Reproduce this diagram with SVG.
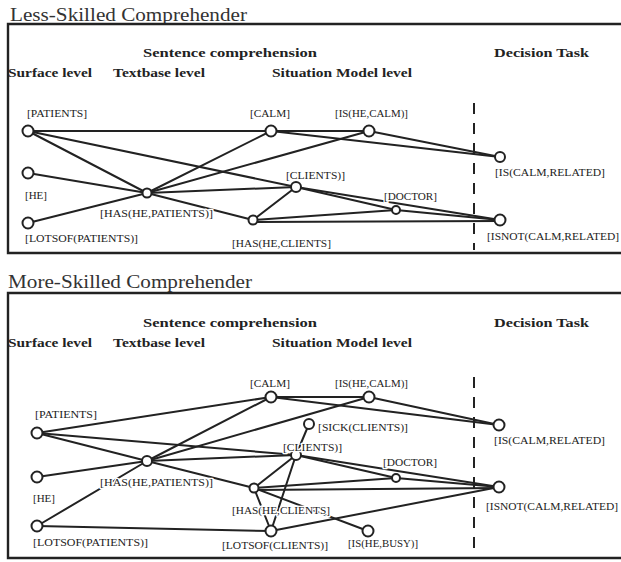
<svg xmlns="http://www.w3.org/2000/svg" width="621" height="562" viewBox="0 0 621 562">
<style>
.bg{fill:#fff}
.frame{stroke:#222;stroke-width:2.4;fill:none}
.dash{stroke:#222;stroke-width:2;stroke-dasharray:11 9;fill:none}
.title{font-family:"Liberation Serif",serif;font-size:19px;fill:#333}
.head{font-family:"Liberation Serif",serif;font-size:13px;font-weight:bold;fill:#222}
.lbl{font-family:"Liberation Serif",serif;font-size:10px;fill:#222;stroke:#fff;stroke-width:2.5;paint-order:stroke;stroke-linejoin:round}
.edge line{stroke:#222;stroke-width:2;stroke-linecap:round}
.node circle{fill:#fff;stroke:#222;stroke-width:2}
</style>
<rect class="bg" x="0" y="0" width="621" height="562"/>

<!-- Top panel frame -->
<g id="top-frame">
<text class="title" x="10" y="21" textLength="237" lengthAdjust="spacingAndGlyphs">Less-Skilled Comprehender</text>
<path class="frame" d="M621,24 H8 V253 H621"/>
<text class="head" x="143" y="57" textLength="174" lengthAdjust="spacingAndGlyphs">Sentence comprehension</text>
<text class="head" x="8" y="77" textLength="84" lengthAdjust="spacingAndGlyphs">Surface level</text>
<text class="head" x="113" y="77" textLength="92" lengthAdjust="spacingAndGlyphs">Textbase level</text>
<text class="head" x="272" y="77" textLength="140" lengthAdjust="spacingAndGlyphs">Situation Model level</text>
<text class="head" x="494" y="57" textLength="95" lengthAdjust="spacingAndGlyphs">Decision Task</text>
<line class="dash" x1="474" y1="103" x2="474" y2="250"/>
</g>

<!-- Bottom panel frame -->
<g id="bottom-frame">
<text class="title" x="8" y="288" textLength="244" lengthAdjust="spacingAndGlyphs">More-Skilled Comprehender</text>
<path class="frame" d="M621,293 H8 V558 H621"/>
<text class="head" x="143" y="327" textLength="174" lengthAdjust="spacingAndGlyphs">Sentence comprehension</text>
<text class="head" x="8" y="347" textLength="84" lengthAdjust="spacingAndGlyphs">Surface level</text>
<text class="head" x="113" y="347" textLength="92" lengthAdjust="spacingAndGlyphs">Textbase level</text>
<text class="head" x="272" y="347" textLength="140" lengthAdjust="spacingAndGlyphs">Situation Model level</text>
<text class="head" x="494" y="327" textLength="95" lengthAdjust="spacingAndGlyphs">Decision Task</text>
<line class="dash" x1="474" y1="377" x2="474" y2="556"/>
</g>

<!-- Connectors -->
<g id="connectors" class="edge">
<!-- top -->
<line x1="28" y1="131" x2="271" y2="131"/>
<line x1="28" y1="131" x2="147" y2="193"/>
<line x1="28" y1="131" x2="296" y2="187"/>
<line x1="28" y1="173" x2="147" y2="193"/>
<line x1="28" y1="223" x2="147" y2="193"/>
<line x1="147" y1="193" x2="271" y2="131"/>
<line x1="147" y1="193" x2="369" y2="131"/>
<line x1="147" y1="193" x2="296" y2="187"/>
<line x1="147" y1="193" x2="253" y2="220"/>
<line x1="271" y1="131" x2="369" y2="131"/>
<line x1="271" y1="131" x2="500" y2="157"/>
<line x1="369" y1="131" x2="500" y2="157"/>
<line x1="296" y1="187" x2="253" y2="220"/>
<line x1="296" y1="187" x2="396" y2="210"/>
<line x1="296" y1="187" x2="500" y2="220"/>
<line x1="253" y1="220" x2="396" y2="210"/>
<line x1="253" y1="222" x2="500" y2="221"/>
<line x1="396" y1="210" x2="500" y2="220"/>
<!-- bottom -->
<line x1="37" y1="433" x2="271" y2="397"/>
<line x1="37" y1="433" x2="147" y2="461"/>
<line x1="37" y1="433" x2="296" y2="455"/>
<line x1="37" y1="477" x2="147" y2="461"/>
<line x1="37" y1="526" x2="147" y2="461"/>
<line x1="37" y1="526" x2="271" y2="531"/>
<line x1="147" y1="461" x2="271" y2="397"/>
<line x1="147" y1="461" x2="369" y2="397"/>
<line x1="147" y1="461" x2="296" y2="455"/>
<line x1="147" y1="461" x2="254" y2="488"/>
<line x1="271" y1="397" x2="369" y2="397"/>
<line x1="271" y1="397" x2="499" y2="425"/>
<line x1="369" y1="397" x2="499" y2="425"/>
<line x1="309" y1="424" x2="296" y2="455"/>
<line x1="296" y1="455" x2="254" y2="488"/>
<line x1="296" y1="455" x2="271" y2="531"/>
<line x1="296" y1="455" x2="396" y2="478"/>
<line x1="296" y1="455" x2="499" y2="487"/>
<line x1="254" y1="488" x2="396" y2="478"/>
<line x1="254" y1="490" x2="499" y2="488"/>
<line x1="254" y1="488" x2="271" y2="531"/>
<line x1="254" y1="488" x2="368" y2="531"/>
<line x1="396" y1="478" x2="499" y2="487"/>
<line x1="271" y1="531" x2="499" y2="487"/>
</g>

<!-- Top nodes -->
<g id="t-patients" class="node"><circle cx="28" cy="131" r="5.5"/><text class="lbl" x="27" y="117" textLength="60" lengthAdjust="spacingAndGlyphs">[PATIENTS]</text></g>
<g id="t-he" class="node"><circle cx="28" cy="173" r="5.5"/><text class="lbl" x="25" y="199" textLength="22" lengthAdjust="spacingAndGlyphs">[HE]</text></g>
<g id="t-lotsof-patients" class="node"><circle cx="28" cy="223" r="5.5"/><text class="lbl" x="25" y="242" textLength="113" lengthAdjust="spacingAndGlyphs">[LOTSOF(PATIENTS)]</text></g>
<g id="t-has-he-patients" class="node"><circle cx="147" cy="193" r="4.5"/><text class="lbl" x="100" y="217" textLength="113" lengthAdjust="spacingAndGlyphs">[HAS(HE,PATIENTS)]</text></g>
<g id="t-calm" class="node"><circle cx="271" cy="131" r="5.5"/><text class="lbl" x="250" y="117" textLength="40" lengthAdjust="spacingAndGlyphs">[CALM]</text></g>
<g id="t-is-he-calm" class="node"><circle cx="369" cy="131" r="5.5"/><text class="lbl" x="335" y="117" textLength="73" lengthAdjust="spacingAndGlyphs">[IS(HE,CALM)]</text></g>
<g id="t-clients" class="node"><circle cx="296" cy="187" r="5"/><text class="lbl" x="286" y="179" textLength="59" lengthAdjust="spacingAndGlyphs">[CLIENTS)]</text></g>
<g id="t-has-he-clients" class="node"><circle cx="253" cy="220" r="4.5"/><text class="lbl" x="232" y="247" textLength="99" lengthAdjust="spacingAndGlyphs">[HAS(HE,CLIENTS]</text></g>
<g id="t-doctor" class="node"><circle cx="396" cy="210" r="4"/><text class="lbl" x="384" y="200" textLength="53" lengthAdjust="spacingAndGlyphs">[DOCTOR]</text></g>
<g id="t-is-calm-related" class="node"><circle cx="500" cy="157" r="5"/><text class="lbl" x="495" y="176" textLength="110" lengthAdjust="spacingAndGlyphs">[IS(CALM,RELATED]</text></g>
<g id="t-isnot-calm-related" class="node"><circle cx="500" cy="220" r="5.5"/><text class="lbl" x="487" y="240" textLength="132" lengthAdjust="spacingAndGlyphs">[ISNOT(CALM,RELATED]</text></g>

<!-- Bottom nodes -->
<g id="b-patients" class="node"><circle cx="37" cy="433" r="5.5"/><text class="lbl" x="35" y="418" textLength="62" lengthAdjust="spacingAndGlyphs">[PATIENTS]</text></g>
<g id="b-he" class="node"><circle cx="37" cy="477" r="5.5"/><text class="lbl" x="33" y="502" textLength="22" lengthAdjust="spacingAndGlyphs">[HE]</text></g>
<g id="b-lotsof-patients" class="node"><circle cx="37" cy="526" r="5.5"/><text class="lbl" x="33" y="546" textLength="115" lengthAdjust="spacingAndGlyphs">[LOTSOF(PATIENTS)]</text></g>
<g id="b-has-he-patients" class="node"><circle cx="147" cy="461" r="5"/><text class="lbl" x="100" y="486" textLength="113" lengthAdjust="spacingAndGlyphs">[HAS(HE,PATIENTS)]</text></g>
<g id="b-calm" class="node"><circle cx="271" cy="397" r="5.5"/><text class="lbl" x="250" y="387" textLength="40" lengthAdjust="spacingAndGlyphs">[CALM]</text></g>
<g id="b-is-he-calm" class="node"><circle cx="369" cy="397" r="5.5"/><text class="lbl" x="335" y="387" textLength="73" lengthAdjust="spacingAndGlyphs">[IS(HE,CALM)]</text></g>
<g id="b-sick-clients" class="node"><circle cx="309" cy="424" r="5"/><text class="lbl" x="318" y="431" textLength="90" lengthAdjust="spacingAndGlyphs">[SICK(CLIENTS)]</text></g>
<g id="b-clients" class="node"><circle cx="296" cy="455" r="5"/><text class="lbl" x="283" y="451" textLength="59" lengthAdjust="spacingAndGlyphs">[CLIENTS)]</text></g>
<g id="b-doctor" class="node"><circle cx="396" cy="478" r="4"/><text class="lbl" x="383" y="466" textLength="54" lengthAdjust="spacingAndGlyphs">[DOCTOR]</text></g>
<g id="b-has-he-clients" class="node"><circle cx="254" cy="488" r="4.5"/><text class="lbl" x="232" y="514" textLength="98" lengthAdjust="spacingAndGlyphs">[HAS(HE,CLIENTS]</text></g>
<g id="b-lotsof-clients" class="node"><circle cx="271" cy="531" r="5.5"/><text class="lbl" x="222" y="549" textLength="106" lengthAdjust="spacingAndGlyphs">[LOTSOF(CLIENTS)]</text></g>
<g id="b-is-he-busy" class="node"><circle cx="368" cy="531" r="5.5"/><text class="lbl" x="348" y="547" textLength="70" lengthAdjust="spacingAndGlyphs">[IS(HE,BUSY)]</text></g>
<g id="b-is-calm-related" class="node"><circle cx="499" cy="425" r="5.5"/><text class="lbl" x="494" y="444" textLength="111" lengthAdjust="spacingAndGlyphs">[IS(CALM,RELATED]</text></g>
<g id="b-isnot-calm-related" class="node"><circle cx="499" cy="487" r="5.5"/><text class="lbl" x="486" y="510" textLength="132" lengthAdjust="spacingAndGlyphs">[ISNOT(CALM,RELATED]</text></g>
</svg>
